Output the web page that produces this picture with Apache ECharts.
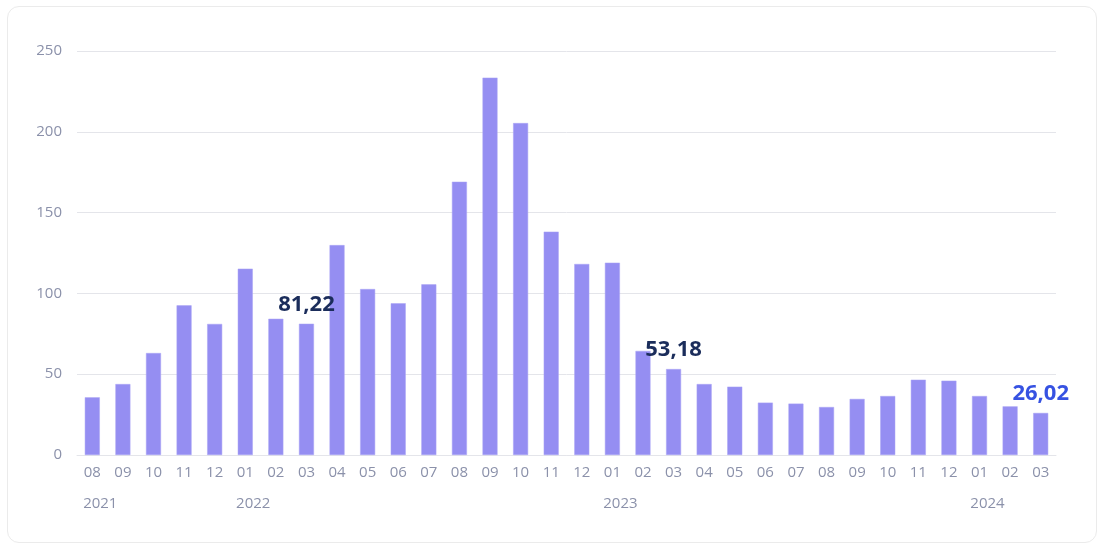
<!DOCTYPE html>
<html>
<head>
<meta charset="utf-8">
<script src="https://cdn.jsdelivr.net/npm/echarts@6/dist/echarts.min.js"></script>
<style>
  html, body { margin: 0; padding: 0; background: #fff; }
  .card {
    position: absolute; left: 7px; top: 6px; width: 1088px; height: 535px;
    border: 1px solid #ebebeb; border-radius: 12px; background: #fff;
  }
  #chart { position: absolute; left: 0; top: 0; width: 1102px; height: 547px; }
</style>
</head>
<body>
<div class="card"></div>
<div id="chart"></div>
<script>
// month labels, Aug 2021 .. Mar 2024
const months = ['08', '09', '10', '11', '12',
  '01', '02', '03', '04', '05', '06', '07', '08', '09', '10', '11', '12',
  '01', '02', '03', '04', '05', '06', '07', '08', '09', '10', '11', '12',
  '01', '02', '03'];
const years = ['2021', '', '', '', '',
  '2022', '', '', '', '', '', '', '', '', '', '', '',
  '2023', '', '', '', '', '', '', '', '', '', '', '',
  '2024', '', ''];
const values = [35.7, 43.9, 63.1, 92.6, 81.1,
  115.3, 84.3, 81.22, 129.9, 102.7, 93.9, 105.6, 169.1, 233.5, 205.4, 138.2, 118.2,
  119.0, 64.4, 53.18, 43.9, 42.3, 32.4, 31.8, 29.7, 34.7, 36.5, 46.6, 46.0,
  36.5, 30.1, 26.02];
const labelled = [7, 19];   // dark labels
const highlighted = [31];   // last value, blue label

const chart = echarts.init(document.getElementById('chart'));

const fmt = (p) => p.value.toFixed(2).replace('.', ',');

const seriesData = values.map((v, i) => {
  if (labelled.includes(i)) {
    return { value: v, label: { show: true, color: '#1b2d5b' } };
  }
  if (highlighted.includes(i)) {
    return { value: v, label: { show: true, color: '#3652e2' } };
  }
  return v;
});

chart.setOption({
  animation: false,
  textStyle: { fontFamily: 'Open Sans' },
  grid: { left: 77, right: 46, top: 51, bottom: 92 },
  xAxis: [
    {
      type: 'category',
      data: months,
      axisLine: { lineStyle: { color: '#e4e5ea' } },
      axisTick: { show: false },
      axisLabel: { color: '#8b91aa', fontSize: 15, lineHeight: 15, margin: 10, interval: 0 },
    },
    {
      type: 'category',
      data: years,
      position: 'bottom',
      axisLine: { show: false },
      axisTick: { show: false },
      axisLabel: {
        color: '#8b91aa', fontSize: 15, lineHeight: 15, margin: 41, interval: 0,
        padding: [0, 0, 0, 16],
      },
    },
  ],
  yAxis: {
    type: 'value',
    min: 0,
    max: 250,
    interval: 50,
    axisLabel: { color: '#8b91aa', fontSize: 15, margin: 15 },
    splitLine: { lineStyle: { color: '#e4e5ea' } },
  },
  series: [
    {
      type: 'bar',
      barWidth: 15,
      data: seriesData,
      itemStyle: { color: '#958ef2', borderColor: '#aaa5f5', borderWidth: 0.5 },
      label: {
        show: false,
        position: 'top',
        distance: 8,
        fontSize: 22,
        fontWeight: 'bold',
        formatter: fmt,
      },
    },
  ],
});
</script>
</body>
</html>
